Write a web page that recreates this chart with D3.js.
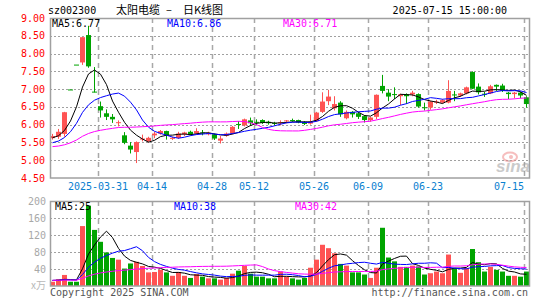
<!DOCTYPE html>
<html>
<head>
<meta charset="utf-8">
<script src="https://cdn.jsdelivr.net/npm/d3@7"></script>
<style>
body { margin: 0; background: #fff; }
svg text { font-family: "DejaVu Sans Mono", monospace; }
</style>
</head>
<body>
<div id="chart"></div>
<script>
//*************
// sz002300 daily K chart
//*************

var dates = [
"03-19","03-20","03-21","03-24","03-25","03-26","03-27","03-28","03-31",
"04-01","04-02","04-03","04-07","04-08","04-09","04-10","04-11","04-14","04-15","04-16","04-17","04-18","04-21","04-22","04-23","04-24","04-25","04-28","04-29","04-30",
"05-06","05-07","05-08","05-09","05-12","05-13","05-14","05-15","05-16","05-19","05-20","05-21","05-22","05-23","05-26","05-27","05-28","05-29","05-30",
"06-03","06-04","06-05","06-06","06-09","06-10","06-11","06-12","06-13","06-16","06-17","06-18","06-19","06-20","06-23","06-24","06-25","06-26","06-27","06-30",
"07-01","07-02","07-03","07-04","07-07","07-08","07-09","07-10","07-11","07-14","07-15"];

var opens = [5.62,5.66,5.74,6.99,7.69,7.75,8.52,6.93,6.52,6.32,6.22,6.05,5.70,5.41,5.23,5.58,5.54,5.70,5.75,5.82,
5.60,5.63,5.73,5.80,5.75,5.78,5.73,5.73,5.55,5.69,5.75,6.02,5.98,6.12,6.08,6.13,6.08,6.05,6.04,6.11,
6.13,6.13,6.08,6.03,6.10,6.36,6.66,6.46,6.62,6.18,6.36,6.32,6.24,6.13,6.22,7.09,6.90,6.86,6.80,6.85,
6.85,6.86,6.49,6.48,6.62,6.62,6.62,6.85,6.82,6.88,7.48,7.07,6.87,6.88,7.12,7.10,6.90,6.86,6.90,6.77];
var highs = [5.74,5.88,6.36,6.99,7.69,8.46,8.78,7.62,6.65,6.43,6.30,6.12,5.79,5.51,5.53,5.72,5.66,5.80,5.85,5.83,
5.66,5.80,5.80,5.83,5.90,5.85,5.80,5.75,5.68,5.78,5.96,6.10,6.17,6.20,6.15,6.15,6.11,6.08,6.12,6.13,
6.17,6.14,6.10,6.28,6.36,6.91,6.98,6.80,6.66,6.40,6.38,6.36,6.27,6.22,6.85,7.40,7.00,7.05,6.87,6.88,
6.95,6.88,6.62,6.67,6.70,6.72,7.25,6.95,6.90,7.07,7.50,7.16,6.92,7.12,7.13,7.15,6.92,6.92,6.93,6.80];
var lows = [5.58,5.60,5.66,6.99,7.69,7.68,7.60,6.91,6.20,6.13,6.05,5.95,5.45,5.19,4.92,5.53,5.50,5.62,5.72,5.58,
5.57,5.60,5.68,5.70,5.72,5.70,5.70,5.57,5.47,5.66,5.73,5.88,5.95,5.96,5.98,6.02,6.00,5.98,5.98,6.04,
6.08,6.04,5.99,6.00,6.08,6.33,6.55,6.40,6.22,6.15,6.20,6.16,6.06,6.08,6.15,6.88,6.66,6.72,6.55,6.58,
6.80,6.48,6.40,6.42,6.58,6.60,6.60,6.66,6.78,6.85,7.00,6.85,6.78,6.86,6.95,6.92,6.72,6.74,6.74,6.48];
var closes = [5.68,5.80,6.35,6.99,7.69,8.46,7.64,6.91,6.40,6.22,6.15,6.07,5.49,5.30,5.51,5.61,5.63,5.75,5.82,5.70,
5.63,5.75,5.78,5.73,5.82,5.76,5.77,5.61,5.61,5.75,5.94,6.00,6.15,6.04,6.06,6.05,6.04,6.03,6.07,6.12,
6.12,6.06,6.02,6.08,6.34,6.65,6.79,6.58,6.29,6.36,6.29,6.22,6.13,6.20,6.84,6.95,6.79,6.84,6.85,6.80,
6.90,6.51,6.47,6.65,6.65,6.69,6.95,6.83,6.88,7.05,7.01,6.91,6.85,7.08,7.07,6.96,6.86,6.90,6.82,6.58];
// volume, 10k lots
var volumes = [10,16,26,10,10,141,189,132,104,79,66,62,41,53,57,47,32,33,38,32,
24,33,24,19,28,22,18,18,15,19,29,36,47,29,22,22,18,18,34,22,
18,15,19,43,62,97,89,77,52,48,32,32,27,19,43,137,67,58,45,45,
48,46,27,30,34,30,74,42,31,42,87,56,34,45,38,34,24,24,22,34];

// sessions before the visible window, only used to start the moving averages
var priorCloses = [5.30,5.28,5.32,5.35,5.31,5.29,5.27,5.33,5.36,5.38,5.34,5.30,5.29,5.32,5.35,5.37,5.36,5.33,5.34,5.36,
5.33,5.35,5.36,5.34,5.38,5.52,5.60,5.66,5.70];
var priorVolumes = [12,15,13,14,11,16,13,12,14,15,13,12,14,16,13,12,15,14,13,12,14,13,15,12,14,13,16,12,14];

var priceTicks = [4.5,5.0,5.5,6.0,6.5,7.0,7.5,8.0,8.5,9.0];
var volTicks = [40,80,120,160,200];
var dateTicks = ["03-31","04-14","04-28","05-12","05-26","06-09","06-23","07-15"];
var dateTickLabels = ["2025-03-31","04-14","04-28","05-12","05-26","06-09","06-23","07-15"];
var maPeriods = [5,10,30];
var priceMaLabels = ["MA5:6.77","MA10:6.86","MA30:6.71"];
var volMaLabels = ["MA5:25","MA10:38","MA30:42"];

var up = "#ff5353", down = "#00a400";
var maColors = ["#000000","#0000ff","#ff00ff"];

var W = 545, H = 300;
var svg = d3.select("#chart").append("svg").attr("width", W).attr("height", H);

var x = d3.scaleBand().domain(dates).range([49, 529]).paddingInner(0).paddingOuter(0);
var yP = d3.scaleLinear().domain([4.5, 9]).range([178, 18]);
var yV = d3.scaleLinear().domain([0, 200]).range([286, 201]);

var mid = function(d) { return x(d) + 3.5; };

function movingAvg(prior, vals, n) {
	var all = prior.concat(vals), off = prior.length, out = [];
	for (var i = 0; i < vals.length; i++) {
		out.push(d3.mean(all.slice(off + i - n + 1, off + i + 1)));
	}
	return out;
}

// grid
var g = svg.append("g");
priceTicks.slice(1, -1).forEach(function(t) {
	g.append("line").attr("x1", 50).attr("x2", 530).attr("y1", Math.round(yP(t)) + 0.5).attr("y2", Math.round(yP(t)) + 0.5)
		.attr("stroke", "#a0a0a0").attr("stroke-dasharray", "2,2");
});
volTicks.slice(0, -1).forEach(function(t) {
	g.append("line").attr("x1", 50).attr("x2", 530).attr("y1", Math.round(yV(t)) + 0.5).attr("y2", Math.round(yV(t)) + 0.5)
		.attr("stroke", "#a0a0a0").attr("stroke-dasharray", "2,2");
});
dateTicks.forEach(function(d) {
	[[18, 178], [201, 286]].forEach(function(r) {
		g.append("line").attr("x1", x(d) + 1.5).attr("x2", x(d) + 1.5).attr("y1", r[0]).attr("y2", r[1])
			.attr("stroke", "#a8a8a8").attr("stroke-width", 1.5).attr("stroke-dasharray", "5,4");
	});
});

// sina watermark
var wm = svg.append("g").attr("opacity", 0.55);
wm.append("ellipse").attr("cx", 510).attr("cy", 157).attr("rx", 7).attr("ry", 4.5)
	.attr("fill", "none").attr("stroke", "#f08a8a").attr("stroke-width", 2);
wm.append("circle").attr("cx", 511).attr("cy", 157).attr("r", 2).attr("fill", "#f08a8a");
wm.append("text").attr("x", 496).attr("y", 172).text("sina")
	.style("font-family", "Liberation Sans").style("font-style", "italic").style("font-weight", "bold")
	.style("font-size", "17px").attr("fill", "#a0a0a0");

// candles
var idx = d3.range(dates.length);
var cg = svg.append("g");
cg.selectAll(".wick").data(idx).enter().append("line")
	.attr("x1", function(i) { return mid(dates[i]); })
	.attr("x2", function(i) { return mid(dates[i]); })
	.attr("y1", function(i) { return yP(highs[i]); })
	.attr("y2", function(i) { return yP(lows[i]); })
	.attr("stroke", function(i) { return closes[i] > opens[i] ? up : down; });
cg.selectAll(".body").data(idx).enter().append("rect")
	.attr("x", function(i) { return x(dates[i]) + 1; })
	.attr("width", 5)
	.attr("y", function(i) { return yP(Math.max(opens[i], closes[i])); })
	.attr("height", function(i) { return Math.max(1, Math.abs(yP(opens[i]) - yP(closes[i]))); })
	.attr("fill", function(i) { return closes[i] > opens[i] ? up : down; });

// volume bars
svg.append("g").selectAll("rect").data(idx).enter().append("rect")
	.attr("x", function(i) { return x(dates[i]) + 1; })
	.attr("width", 5)
	.attr("y", function(i) { return yV(volumes[i]); })
	.attr("height", function(i) { return yV(0) - yV(volumes[i]); })
	.attr("fill", function(i) { return closes[i] > opens[i] ? up : down; });

// moving averages
maPeriods.forEach(function(n, k) {
	var pm = movingAvg(priorCloses, closes, n);
	var vm = movingAvg(priorVolumes, volumes, n);
	svg.append("path").datum(idx)
		.attr("d", d3.line().x(function(i) { return mid(dates[i]); }).y(function(i) { return yP(pm[i]); }))
		.attr("fill", "none").attr("stroke", maColors[k]).attr("stroke-width", 1);
	svg.append("path").datum(idx)
		.attr("d", d3.line().x(function(i) { return mid(dates[i]); }).y(function(i) { return yV(vm[i]); }))
		.attr("fill", "none").attr("stroke", maColors[k]).attr("stroke-width", 1);
});

// frames
svg.append("rect").attr("x", 50.5).attr("y", 18.5).attr("width", 479).attr("height", 159.5)
	.attr("fill", "none").attr("stroke", "#a0a0a0").attr("stroke-width", 1.5);
svg.append("rect").attr("x", 50.5).attr("y", 201.5).attr("width", 479).attr("height", 84.5)
	.attr("fill", "none").attr("stroke", "#a0a0a0").attr("stroke-width", 1.5);

// axis labels
svg.append("g").selectAll("text").data(priceTicks).enter().append("text")
	.attr("x", 45).attr("y", function(d) { return yP(d) + 3.5; })
	.attr("text-anchor", "end").attr("fill", "#ff0000").style("font-size", "10px")
	.text(function(d) { return d3.format(".2f")(d); });
svg.append("g").selectAll("text").data(volTicks).enter().append("text")
	.attr("x", 46).attr("y", function(d) { return yV(d) + 3.5; })
	.attr("text-anchor", "end").attr("fill", "#a8a8a8").style("font-size", "10px")
	.text(function(d) { return d; });
svg.append("text").attr("x", 46).attr("y", 289).attr("text-anchor", "end").attr("fill", "#b8b8b8")
	.style("font-size", "10px").style("font-family", "Noto Sans CJK SC").text("x万");

dateTicks.forEach(function(d, k) {
	var last = k == dateTicks.length - 1;
	svg.append("text").attr("x", last ? 524 : x(d) + 1).attr("y", 190)
		.attr("text-anchor", last ? "end" : "middle").attr("fill", "#0a80d0").style("font-size", "10px")
		.text(dateTickLabels[k]);
});

// legends
var legX = [52, 167, 283], vLegX = [55, 174, 295];
priceMaLabels.forEach(function(t, k) {
	svg.append("text").attr("x", legX[k]).attr("y", 27).attr("fill", maColors[k]).style("font-size", "10px").text(t);
});
volMaLabels.forEach(function(t, k) {
	svg.append("text").attr("x", vLegX[k]).attr("y", 210).attr("fill", maColors[k]).style("font-size", "10px").text(t);
});

// header
svg.append("text").attr("x", 48).attr("y", 14).style("font-size", "10px").text("sz002300");
svg.append("text").attr("x", 116).attr("y", 14).style("font-size", "11px").style("font-family", "Noto Sans CJK SC").text("太阳电缆");
svg.append("text").attr("x", 166).attr("y", 14).style("font-size", "11px").style("font-family", "Noto Sans CJK SC").text("–");
svg.append("text").attr("x", 183).attr("y", 14).style("font-size", "11px").style("font-family", "Noto Sans CJK SC").text("日K线图");
svg.append("text").attr("x", 507).attr("y", 14).attr("text-anchor", "end").style("font-size", "10px").text("2025-07-15 15:00:00");

// footer
svg.append("text").attr("x", 50).attr("y", 296).attr("fill", "#555").style("font-size", "10px").text("Copyright 2025 SINA.COM");
svg.append("text").attr("x", 528).attr("y", 296).attr("text-anchor", "end").attr("fill", "#555").style("font-size", "10px").text("http://finance.sina.com.cn");
</script>
</body>
</html>
